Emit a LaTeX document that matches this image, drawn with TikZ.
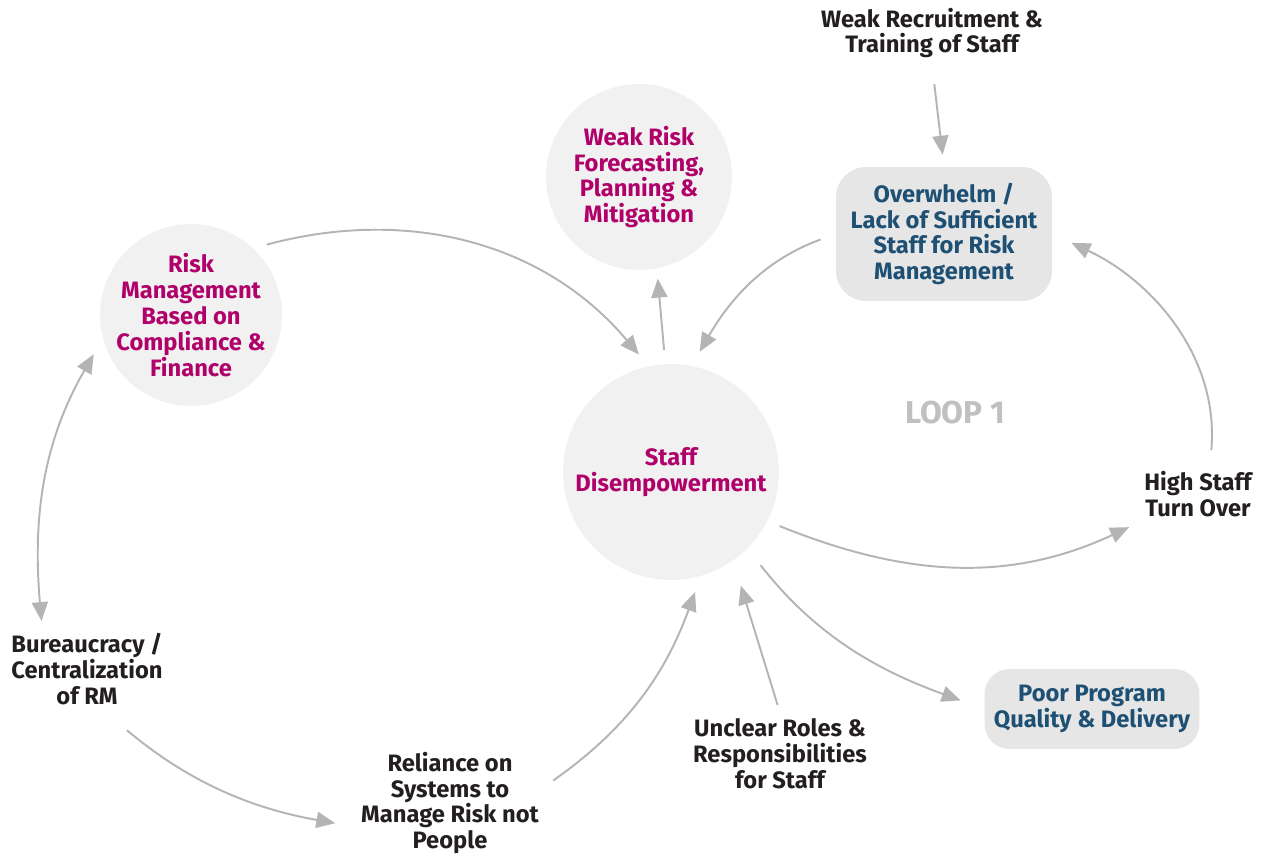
\documentclass[tikz,border=0pt]{standalone}
\usepackage{fontspec}
\setmainfont{Fira Sans}
\usetikzlibrary{arrows.meta,calc}
\definecolor{riskred}{RGB}{176,0,106}
\definecolor{riskblue}{RGB}{30,80,115}
\definecolor{riskdark}{RGB}{35,31,32}
\definecolor{riskgrey}{RGB}{180,180,180}
\definecolor{loopgrey}{RGB}{192,192,192}
\definecolor{circfill}{RGB}{241,241,241}
\definecolor{boxfill}{RGB}{230,230,230}
\tikzset{
	bubble/.style={circle, inner sep=0pt, fill=circfill, text=riskred, align=center, font=\bfseries\fontsize{13.5}{14.7}\selectfont},
	softbox/.style={rectangle, rounded corners=0.6cm, fill=boxfill, text=riskblue, align=center, font=\bfseries\fontsize{13.5}{14.7}\selectfont},
	label/.style={text=riskdark, align=center, font=\bfseries\fontsize{13.5}{14.7}\selectfont},
	link/.style={draw=riskgrey, line width=1.1pt, -{Triangle[length=0.38cm,width=0.32cm]}}
}
\begin{document}
\begin{tikzpicture}[x={(0.02cm,0)}, y={(0,-0.02cm)}]
		\useasboundingbox (0,0) rectangle (1265,855);
		% circles
		\node[bubble, minimum size=4.32cm] (staff) at (671,472) {Staff\\Disempowerment};
		\node[bubble, minimum size=3.72cm] (weak) at (639,177) {Weak Risk\\Forecasting,\\Planning \&\\Mitigation};
		\node[bubble, inner sep=-0.1cm, minimum size=3.64cm] (risk) at (191,315) {Risk\\Management\\Based on\\Compliance \&\\Finance};
		% boxes
		\node[softbox, minimum width=4.32cm, minimum height=2.68cm] (overwhelm) at (944,234) {Overwhelm /\\Lack of Sufficient\\Staff for Risk\\Management};
		\node[softbox, rounded corners=0.5cm, minimum width=4.3cm, minimum height=1.6cm] (poor) at (1092,709) {Poor Program\\Quality \& Delivery};
		% plain labels
		\node[label] (recruit) at (932,33) {Weak Recruitment \&\\Training of Staff};
		\node[label] (high) at (1198,494) {High Staff\\Turn Over};
		\node[label] (bureau) at (87,669) {Bureaucracy /\\Centralization\\of RM};
		\node[label] (reliance) at (450,803) {Reliance on\\Systems to\\Manage Risk not\\People};
		\node[label] (unclear) at (780,754) {Unclear Roles \&\\Responsibilities\\for Staff};
		\node[text=loopgrey, font=\bfseries\fontsize{18}{20}\selectfont] (loop) at (955,413) {LOOP 1};
		% connectors
		\draw[link, shorten <=0.28cm, shorten >=0.3cm] (risk.47) to[out=15, in=130] (staff.102);
		\draw[link, shorten <=0.28cm, shorten >=0.2cm] (staff.93) -- (weak.-79);
		\draw[link, shorten <=0.32cm, shorten >=0.32cm] (overwhelm.west) to[out=200, in=60] (staff.79);
		\draw[link, shorten <=0.4cm, shorten >=0.24cm] (recruit.south) -- (overwhelm.north);
		\draw[link, shorten <=0.3cm, shorten >=0.42cm] ($(high.north)+(12,0)$) to[out=85, in=-25] (overwhelm.east);
		\draw[link, shorten <=0.26cm, shorten >=0.2cm] (staff.-27) to[out=-22, in=205] (high.south west);
		\draw[link, shorten <=0.42cm, shorten >=0.5cm] (staff.-45) to[out=-52, in=160] (poor.west);
		\draw[link, shorten <=0.16cm, shorten >=0.52cm] (unclear.north) -- (staff.-55);
		\draw[link, shorten <=0.2cm, shorten >=0.34cm] (reliance.10) to[out=35, in=250] (staff.-74);
		\draw[link, shorten <=0.6cm, shorten >=0.4cm] (bureau.-68) to[out=-40, in=170] (reliance.194);
		\draw[link, {Triangle[length=0.38cm,width=0.32cm]}-{Triangle[length=0.38cm,width=0.32cm]}, shorten <=0.36cm, shorten >=0.12cm] (risk.195) to[out=240, in=95] (bureau.137);
\end{tikzpicture}
\end{document}
